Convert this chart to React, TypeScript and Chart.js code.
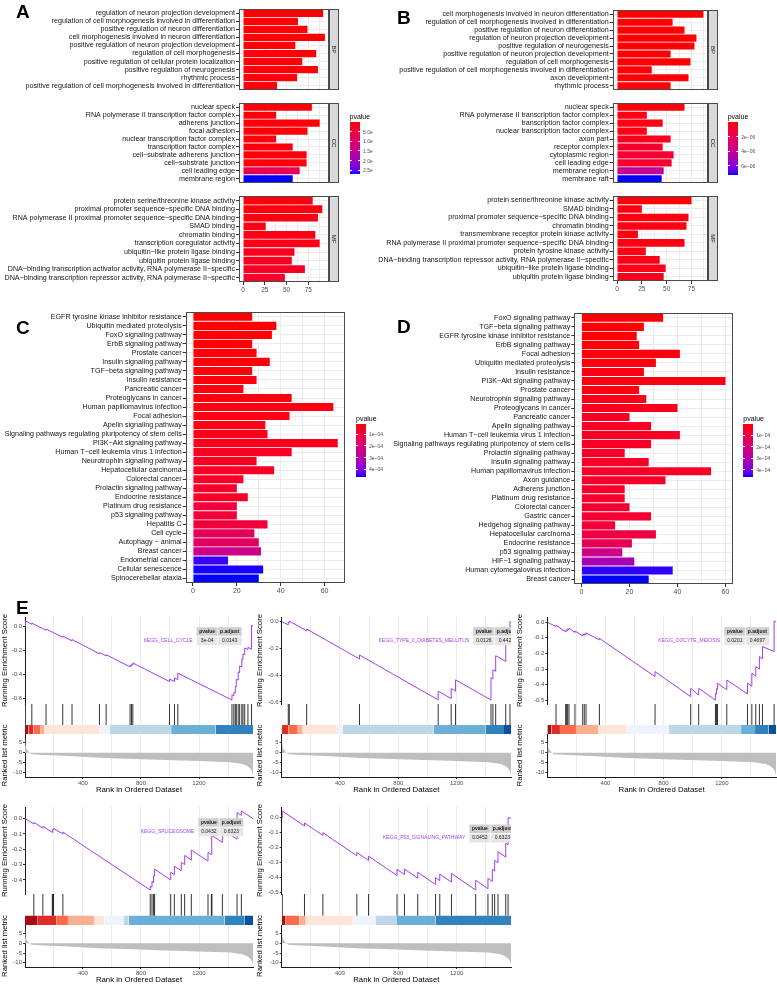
import React, { useEffect, useRef } from 'react';
import { Chart, registerables } from 'chart.js';
Chart.register(...registerables);

const FONT = "'Liberation Sans', Arial, Helvetica, sans-serif";
const M = '\u2212';

// ---------------- Panel A (GO) ----------------
const aBPLabels = ['regulation of neuron projection development', 'regulation of cell morphogenesis involved in differentiation', 'positive regulation of neuron differentiation', 'cell morphogenesis involved in neuron differentiation', 'positive regulation of neuron projection development', 'regulation of cell morphogenesis', 'positive regulation of cellular protein localization', 'positive regulation of neurogenesis', 'rhythmic process', 'positive regulation of cell morphogenesis involved in differentiation'];
const aBPCounts = [92, 63, 74, 94, 60, 84, 68, 86, 62, 39];
const aBPPvalues = [0.01, 0.02, 0.02, 0.01, 0.03, 0.02, 0.03, 0.02, 0.04, 0.05];
const aCCLabels = ['nuclear speck', 'RNA polymerase II transcription factor complex', 'adherens junction', 'focal adhesion', 'nuclear transcription factor complex', 'transcription factor complex', 'cell' + M + 'substrate adherens junction', 'cell' + M + 'substrate junction', 'cell leading edge', 'membrane region'];
const aCCCounts = [79, 38, 88, 74, 38, 57, 73, 73, 65, 57];
const aCCPvalues = [0.03, 0.05, 0.03, 0.04, 0.06, 0.06, 0.05, 0.05, 0.7, 2.7];
const aMFLabels = ['protein serine/threonine kinase activity', 'proximal promoter sequence' + M + 'specific DNA binding', 'RNA polymerase II proximal promoter sequence' + M + 'specific DNA binding', 'SMAD binding', 'chromatin binding', 'transcription coregulator activity', 'ubiquitin' + M + 'like protein ligase binding', 'ubiquitin protein ligase binding', 'DNA' + M + 'binding transcription activator activity, RNA polymerase II' + M + 'specific', 'DNA' + M + 'binding transcription repressor activity, RNA polymerase II' + M + 'specific'];
const aMFCounts = [80, 91, 86, 26, 83, 88, 59, 56, 71, 48];
const aMFPvalues = [0.06, 0.07, 0.08, 0.1, 0.1, 0.12, 0.2, 0.22, 0.25, 0.28];
const aLegendRange = [0, 2.7];
const aLegendBreaks = [0.5, 1.0, 1.5, 2.0, 2.5];
const aLegendLabels = ['5.0e', '1.0e', '1.5e', '2.0e', '2.5e'];

// ---------------- Panel B (GO) ----------------
const bBPLabels = ['cell morphogenesis involved in neuron differentiation', 'regulation of cell morphogenesis involved in differentiation', 'positive regulation of neuron differentiation', 'regulation of neuron projection development', 'positive regulation of neurogenesis', 'positive regulation of neuron projection development', 'regulation of cell morphogenesis', 'positive regulation of cell morphogenesis involved in differentiation', 'axon development', 'rhythmic process'];
const bBPCounts = [87, 56, 68, 80, 78, 54, 74, 35, 72, 54];
const bBPPvalues = [0.02, 0.03, 0.03, 0.03, 0.04, 0.05, 0.05, 0.06, 0.08, 0.1];
const bCCLabels = ['nuclear speck', 'RNA polymerase II transcription factor complex', 'transcription factor complex', 'nuclear transcription factor complex', 'axon part', 'receptor complex', 'cytoplasmic region', 'cell leading edge', 'membrane region', 'membrane raft'];
const bCCCounts = [68, 30, 46, 30, 54, 46, 57, 55, 47, 45];
const bCCPvalues = [0.1, 0.2, 0.25, 0.3, 0.45, 0.8, 0.9, 0.9, 3.9, 7.2];
const bMFLabels = ['protein serine/threonine kinase activity', 'SMAD binding', 'proximal promoter sequence' + M + 'specific DNA binding', 'chromatin binding', 'transmembrane receptor protein kinase activity', 'RNA polymerase II proximal promoter sequence' + M + 'specific DNA binding', 'protein tyrosine kinase activity', 'DNA' + M + 'binding transcription repressor activity, RNA polymerase II' + M + 'specific', 'ubiquitin' + M + 'like protein ligase binding', 'ubiquitin protein ligase binding'];
const bMFCounts = [75, 25, 72, 70, 21, 68, 29, 43, 49, 47];
const bMFPvalues = [0.1, 0.15, 0.15, 0.2, 0.2, 0.25, 0.25, 0.3, 0.35, 0.35];
const bLegendRange = [0, 7.2];
const bLegendBreaks = [2, 4, 6];
const bLegendLabels = ['2e' + M + '06', '4e' + M + '06', '6e' + M + '06'];

const goMajorTicks = [0, 25, 50, 75];
const goMinorTicks = [12.5, 37.5, 62.5, 87.5];

// ---------------- Panel C (KEGG) ----------------
const cLabels = ['EGFR tyrosine kinase inhibitor resistance', 'Ubiquitin mediated proteolysis', 'FoxO signaling pathway', 'ErbB signaling pathway', 'Prostate cancer', 'Insulin signaling pathway', 'TGF' + M + 'beta signaling pathway', 'Insulin resistance', 'Pancreatic cancer', 'Proteoglycans in cancer', 'Human papillomavirus infection', 'Focal adhesion', 'Apelin signaling pathway', 'Signaling pathways regulating pluripotency of stem cells', 'PI3K' + M + 'Akt signaling pathway', 'Human T' + M + 'cell leukemia virus 1 infection', 'Neurotrophin signaling pathway', 'Hepatocellular carcinoma', 'Colorectal cancer', 'Prolactin signaling pathway', 'Endocrine resistance', 'Platinum drug resistance', 'p53 signaling pathway', 'Hepatitis C', 'Cell cycle', 'Autophagy ' + M + ' animal', 'Breast cancer', 'Endometrial cancer', 'Cellular senescence', 'Spinocerebellar ataxia'];
const cCounts = [27, 38, 36, 27, 29, 35, 27, 29, 23, 45, 64, 44, 33, 34, 66, 45, 29, 37, 23, 20, 25, 20, 20, 34, 28, 30, 31, 16, 32, 30];
const cPvalues = [0.17, 0.18, 0.19, 0.2, 0.21, 0.22, 0.23, 0.24, 0.26, 0.28, 0.3, 0.32, 0.35, 0.38, 0.42, 0.5, 0.55, 0.55, 0.6, 0.62, 0.62, 0.85, 0.85, 0.9, 1.5, 1.6, 2.4, 4.5, 4.6, 4.63];
const cLegendRange = [0.17, 4.63];

// ---------------- Panel D (KEGG) ----------------
const dLabels = ['FoxO signaling pathway', 'TGF' + M + 'beta signaling pathway', 'EGFR tyrosine kinase inhibitor resistance', 'ErbB signaling pathway', 'Focal adhesion', 'Ubiquitin mediated proteolysis', 'Insulin resistance', 'PI3K' + M + 'Akt signaling pathway', 'Prostate cancer', 'Neurotrophin signaling pathway', 'Proteoglycans in cancer', 'Pancreatic cancer', 'Apelin signaling pathway', 'Human T' + M + 'cell leukemia virus 1 infection', 'Signaling pathways regulating pluripotency of stem cells', 'Prolactin signaling pathway', 'Insulin signaling pathway', 'Human papillomavirus infection', 'Axon guidance', 'Adherens junction', 'Platinum drug resistance', 'Colorectal cancer', 'Gastric cancer', 'Hedgehog signaling pathway', 'Hepatocellular carcinoma', 'Endocrine resistance', 'p53 signaling pathway', 'HIF' + M + '1 signaling pathway', 'Human cytomegalovirus infection', 'Breast cancer'];
const dCounts = [34, 26, 23, 24, 41, 31, 26, 60, 24, 27, 40, 20, 29, 41, 29, 18, 28, 54, 35, 18, 18, 20, 29, 14, 31, 21, 17, 22, 38, 28];
const dPvalues = [0.02, 0.04, 0.06, 0.08, 0.1, 0.12, 0.14, 0.16, 0.18, 0.22, 0.3, 0.38, 0.4, 0.4, 0.42, 0.45, 0.45, 0.45, 0.5, 0.5, 0.55, 0.55, 0.6, 0.7, 0.9, 1.3, 2.3, 3.2, 4.5, 4.6];
const dLegendRange = [0.02, 4.6];

const keggMajorTicks = [0, 20, 40, 60];
const keggMinorTicks = [10, 30, 50];
const keggLegendBreaks = [1, 2, 3, 4];
const keggLegendLabels = ['1e' + M + '04', '2e' + M + '04', '3e' + M + '04', '4e' + M + '04'];

// ---------------- Panel E (GSEA) ----------------
const geneListSize = 1572;
const rankGridTicks = [200, 400, 600, 800, 1000, 1200, 1400];
const rankLabelTicks = [400, 800, 1200];
const metricTicks = [5, 0, -5, -10];
const rankedMetric = [[1, 8.4], [3, 5.5], [6, 3.5], [10, 2.2], [18, 1.2], [30, 0.3], [45, -0.8], [100, -1.0], [300, -1.7], [514, -2.5], [700, -3.0], [970, -3.7], [1200, -4.2], [1420, -4.8], [1500, -5.6], [1530, -6.5], [1555, -8.0], [1566, -9.5], [1572, -11.2]];
const bandPalette = ['#08519C', '#3182BD', '#6BAED6', '#BDD7E7', '#EFF3FF', '#FEE5D9', '#FCAE91', '#FB6A4A', '#DE2D26', '#A50F15'];

const cellCycleES = [[1, 0], [4, -0.002], [4, 0.045], [48, 0.017], [48, 0.027], [146, -0.032], [146, -0.022], [261, -0.091], [261, -0.082], [325, -0.12], [325, -0.11], [514, -0.228], [514, -0.218], [560, -0.246], [560, -0.236], [725, -0.338], [725, -0.325], [735, -0.331], [735, -0.317], [744, -0.322], [744, -0.305], [997, -0.46], [997, -0.44], [1031, -0.46], [1031, -0.43], [1054, -0.444], [1054, -0.39], [1427, -0.614], [1427, -0.57], [1440, -0.578], [1440, -0.55], [1450, -0.556], [1450, -0.5], [1457, -0.504], [1457, -0.44], [1470, -0.448], [1470, -0.38], [1480, -0.386], [1480, -0.33], [1495, -0.339], [1495, -0.27], [1503, -0.275], [1503, -0.23], [1515, -0.237], [1515, -0.18], [1537, -0.193], [1537, -0.175], [1562, -0.19], [1562, 0.01], [1572, 0.0]];
const cellCycleHits = [4, 48, 146, 261, 325, 514, 560, 725, 735, 744, 997, 1031, 1054, 1427, 1440, 1450, 1457, 1470, 1480, 1495, 1503, 1515, 1537, 1562];
const cellCycleBand = [[1, 25, 9], [25, 60, 8], [60, 105, 7], [105, 136, 6], [136, 514, 5], [514, 583, 4], [583, 1008, 3], [1008, 1314, 2], [1314, 1572, 1]];

const diabetesES = [[1, 0], [46, -0.025], [46, -0.005], [53, -0.009], [53, 0.004], [172, -0.07], [172, -0.056], [534, -0.28], [534, -0.25], [1073, -0.585], [1073, -0.52], [1162, -0.575], [1162, -0.5], [1192, -0.519], [1192, -0.435], [1435, -0.586], [1435, -0.42], [1448, -0.428], [1448, -0.36], [1467, -0.372], [1467, -0.255], [1536, -0.298], [1536, -0.13], [1565, -0.148], [1565, 0.0], [1572, -0.004]];
const diabetesHits = [46, 53, 172, 534, 1073, 1162, 1192, 1435, 1448, 1467, 1536, 1565];
const diabetesBand = [[1, 47, 8], [47, 111, 7], [111, 145, 6], [145, 379, 5], [379, 418, 4], [418, 1043, 3], [1043, 1398, 2], [1398, 1524, 1], [1524, 1572, 0]];

const oocyteES = [[1, 0], [61, -0.028], [61, -0.02], [127, -0.062], [127, -0.054], [134, -0.058], [134, -0.048], [141, -0.052], [141, -0.042], [150, -0.048], [150, -0.038], [191, -0.066], [191, -0.056], [244, -0.088], [244, -0.078], [255, -0.084], [255, -0.074], [267, -0.082], [267, -0.068], [359, -0.113], [359, -0.103], [741, -0.348], [741, -0.316], [986, -0.476], [986, -0.423], [1041, -0.466], [1041, -0.423], [1156, -0.498], [1156, -0.455], [1163, -0.46], [1163, -0.425], [1170, -0.43], [1170, -0.39], [1234, -0.433], [1234, -0.37], [1376, -0.459], [1376, -0.39], [1406, -0.41], [1406, -0.327], [1433, -0.345], [1433, -0.284], [1458, -0.3], [1458, -0.22], [1479, -0.234], [1479, -0.156], [1559, -0.188], [1559, 0.008], [1572, 0.0]];
const oocyteHits = [61, 127, 134, 141, 150, 191, 244, 255, 267, 359, 741, 986, 1041, 1156, 1163, 1170, 1234, 1376, 1406, 1433, 1458, 1479, 1559];
const oocyteBand = [[1, 30, 9], [30, 88, 8], [88, 198, 7], [198, 352, 6], [352, 542, 5], [542, 837, 4], [837, 1332, 3], [1332, 1428, 2], [1428, 1520, 1], [1520, 1572, 0]];

const spliceosomeES = [[1, 0], [62, -0.035], [62, -0.025], [124, -0.062], [124, -0.05], [189, -0.09], [189, -0.078], [193, -0.08], [193, -0.07], [198, -0.073], [198, -0.064], [262, -0.1], [262, -0.088], [864, -0.466], [864, -0.44], [876, -0.448], [876, -0.41], [887, -0.417], [887, -0.37], [894, -0.374], [894, -0.33], [1005, -0.4], [1005, -0.35], [1030, -0.366], [1030, -0.31], [1078, -0.34], [1078, -0.285], [1101, -0.3], [1101, -0.24], [1147, -0.27], [1147, -0.205], [1262, -0.277], [1262, -0.22], [1285, -0.234], [1285, -0.17], [1289, -0.172], [1289, -0.11], [1361, -0.155], [1361, -0.07], [1462, -0.134], [1462, 0.04], [1492, 0.021], [1492, 0.05], [1572, 0.0]];
const spliceosomeHits = [62, 124, 189, 193, 198, 262, 864, 876, 887, 894, 1005, 1030, 1078, 1101, 1147, 1262, 1285, 1289, 1361, 1462, 1492];
const spliceosomeBand = [[1, 85, 9], [85, 216, 8], [216, 297, 7], [297, 476, 6], [476, 549, 5], [549, 680, 4], [680, 715, 3], [715, 1377, 2], [1377, 1515, 1], [1515, 1572, 0]];

const p53ES = [[1, 0], [5, -0.003], [5, 0.045], [157, -0.055], [157, -0.035], [283, -0.118], [283, -0.1], [516, -0.254], [516, -0.232], [596, -0.285], [596, -0.257], [791, -0.386], [791, -0.345], [842, -0.379], [842, -0.343], [933, -0.404], [933, -0.365], [1055, -0.446], [1055, -0.4], [1084, -0.42], [1084, -0.376], [1164, -0.43], [1164, -0.372], [1330, -0.483], [1330, -0.418], [1414, -0.474], [1414, -0.405], [1444, -0.425], [1444, -0.345], [1460, -0.356], [1460, -0.285], [1483, -0.3], [1483, -0.228], [1536, -0.263], [1536, -0.17], [1552, -0.181], [1552, 0.0], [1572, -0.005]];
const p53Hits = [5, 157, 283, 516, 596, 791, 842, 933, 1055, 1084, 1164, 1330, 1414, 1444, 1460, 1483, 1536, 1552];
const p53Band = [[1, 28, 9], [28, 122, 7], [122, 166, 6], [166, 493, 5], [493, 647, 4], [647, 791, 3], [791, 1055, 2], [1055, 1572, 1]];

const esTicksStep2 = [0, -0.2, -0.4, -0.6];
const esTicksStep1a = [0, -0.1, -0.2, -0.3, -0.4, -0.5];
const esTicksStep1b = [0, -0.1, -0.2, -0.3, -0.4];

const gseaNames = ['KEGG_CELL_CYCLE', 'KEGG_TYPE_II_DIABETES_MELLITUS', 'KEGG_OOCYTE_MEIOSIS', 'KEGG_SPLICEOSOME', 'KEGG_P53_SIGNALING_PATHWAY'];
const gseaPvalues = ['3e-04', '0.0126', '0.0201', '0.0432', '0.0452'];
const gseaPadjust = ['0.0143', '0.4427', '0.4697', '0.6323', '0.6323'];

// ---------------- colour helpers ----------------
function toLin(c: number) { c /= 255; return c <= 0.04045 ? c / 12.92 : Math.pow((c + 0.055) / 1.055, 2.4); }
function fromLin(c: number) { const v = c <= 0.0031308 ? 12.92 * c : 1.055 * Math.pow(Math.max(c, 0), 1 / 2.4) - 0.055; return Math.round(Math.min(1, Math.max(0, v)) * 255); }
function rgb2lab(r: number, g: number, b: number) {
  const R = toLin(r), G = toLin(g), B = toLin(b);
  const X = (0.4124564 * R + 0.3575761 * G + 0.1804375 * B) / 0.95047;
  const Y = 0.2126729 * R + 0.7151522 * G + 0.072175 * B;
  const Z = (0.0193339 * R + 0.119192 * G + 0.9503041 * B) / 1.08883;
  const f = (t: number) => (t > 216 / 24389 ? Math.cbrt(t) : (24389 / 27 * t + 16) / 116);
  const fx = f(X), fy = f(Y), fz = f(Z);
  return [116 * fy - 16, 500 * (fx - fy), 200 * (fy - fz)];
}
function lab2rgb(L: number, a: number, b: number) {
  const fy = (L + 16) / 116, fx = fy + a / 500, fz = fy - b / 200;
  const inv = (t: number) => (t * t * t > 216 / 24389 ? t * t * t : (116 * t - 16) / (24389 / 27));
  const X = inv(fx) * 0.95047, Y = inv(fy), Z = inv(fz) * 1.08883;
  const R = 3.2404542 * X - 1.5371385 * Y - 0.4985314 * Z;
  const G = -0.969266 * X + 1.8760108 * Y + 0.041556 * Z;
  const B = 0.0556434 * X - 0.2040259 * Y + 1.0572252 * Z;
  return `rgb(${fromLin(R)},${fromLin(G)},${fromLin(B)})`;
}
const LAB_LOW = rgb2lab(255, 0, 0);
const LAB_HIGH = rgb2lab(0, 0, 255);
function rampColor(t: number) {
  const u = Math.max(0, Math.min(1, t));
  return lab2rgb(LAB_LOW[0] + (LAB_HIGH[0] - LAB_LOW[0]) * u, LAB_LOW[1] + (LAB_HIGH[1] - LAB_LOW[1]) * u, LAB_LOW[2] + (LAB_HIGH[2] - LAB_LOW[2]) * u);
}
function pColor(p: number, range: number[]) { return rampColor((p - range[0]) / (range[1] - range[0])); }

const PURPLE = '#A03EF2';

// ---------------- bar panel config ----------------
type BarSpec = {
  left: number; top: number; width: number; height: number;
  axisWidth: number; padRight: number; xAxisHeight: number;
  labels: string[]; counts: number[]; pvalues: number[]; pRange: number[];
  majors: number[]; minors: number[]; xMaxData: number; strip?: string; labelSize: number; tickSize: number;
};

function panelDecor(strip?: string) {
  return {
    id: 'panelDecor',
    afterDraw(chart: any) {
      const { ctx, chartArea: a } = chart;
      ctx.save();
      ctx.strokeStyle = '#4a4a4a';
      ctx.lineWidth = 1;
      const l = Math.round(a.left), t = Math.round(a.top), r = Math.round(a.right), b = Math.round(a.bottom);
      ctx.strokeRect(l + 0.5, t + 0.5, r - l - 1, b - t - 1);
      if (strip) {
        const w = 10;
        ctx.fillStyle = '#D9D9D9';
        ctx.fillRect(r, t, w, b - t);
        ctx.strokeRect(r + 0.5, t + 0.5, w - 1, b - t - 1);
        ctx.translate(r + w / 2, (t + b) / 2);
        ctx.rotate(Math.PI / 2);
        ctx.fillStyle = '#1A1A1A';
        ctx.font = `6px ${FONT}`;
        ctx.textAlign = 'center';
        ctx.textBaseline = 'middle';
        ctx.fillText(strip, 0, 0);
      }
      ctx.restore();
    },
  };
}

function barConfig(s: BarSpec): any {
  const colors = s.pvalues.map((p) => pColor(p, s.pRange));
  const allTicks = [...s.majors, ...s.minors].sort((a, b) => a - b);
  const xMin = -0.05 * s.xMaxData, xMax = 1.05 * s.xMaxData;
  return {
    type: 'bar',
    data: { labels: s.labels, datasets: [{ data: s.counts, backgroundColor: colors, borderWidth: 0, categoryPercentage: 0.9, barPercentage: 1 }] },
    options: {
      indexAxis: 'y', animation: false, responsive: false, maintainAspectRatio: false,
      layout: { padding: { left: 0, right: s.padRight, top: 0, bottom: 0 } },
      plugins: { legend: { display: false }, tooltip: { enabled: false } },
      scales: {
        x: {
          type: 'linear', min: xMin, max: xMax,
          afterBuildTicks: (sc: any) => { sc.ticks = allTicks.map((v) => ({ value: v })); },
          afterFit: (sc: any) => { sc.height = s.xAxisHeight; },
          ticks: { display: s.xAxisHeight > 0, autoSkip: false, maxRotation: 0, padding: 1, color: '#4D4D4D', font: { family: FONT, size: s.tickSize }, callback: (v: number) => (s.majors.includes(v) ? String(v) : '') },
          grid: { color: '#EBEBEB', lineWidth: 1, drawTicks: s.xAxisHeight > 0, tickLength: 3, tickColor: (c: any) => (c.tick && s.majors.includes(c.tick.value) ? '#333' : 'rgba(0,0,0,0)') },
          border: { display: false },
        },
        y: {
          type: 'category',
          afterFit: (sc: any) => { sc.width = s.axisWidth; },
          ticks: { autoSkip: false, padding: 1, color: '#141414', font: { family: FONT, size: s.labelSize } },
          grid: { offset: false, color: '#EBEBEB', tickLength: 3, tickColor: '#333' },
          border: { display: false },
        },
      },
    },
    plugins: [panelDecor(s.strip)],
  };
}

// ---------------- GSEA config ----------------
type GseaSpec = {
  es: number[][]; hits: number[]; band: number[][]; esTicks: number[]; idx: number;
  left: number; top: number; width: number; height: number; axisW: number; padRight: number;
  weights: number[]; tableX: number; tableY: number;
};

const BAND_TOP = 0.3;

function gseaAnnot(g: GseaSpec) {
  return {
    id: 'gseaAnnot',
    afterDatasetsDraw(chart: any) {
      const { ctx, chartArea: a } = chart;
      ctx.save();
      ctx.beginPath();
      ctx.rect(a.left, a.top, a.right - a.left, a.bottom - a.top);
      ctx.clip();
      const x0 = a.left + g.tableX, yH = a.top + g.tableY, rowH = 9, w1 = 21, w2 = 24;
      ctx.fillStyle = '#CFCFCF';
      ctx.fillRect(x0, yH - rowH / 2, w1 + w2, rowH);
      ctx.fillStyle = '#E6E6E6';
      ctx.fillRect(x0, yH + rowH / 2, w1 + w2, rowH);
      ctx.strokeStyle = '#FFFFFF';
      ctx.lineWidth = 0.8;
      ctx.beginPath();
      ctx.moveTo(x0 + w1, yH - rowH / 2); ctx.lineTo(x0 + w1, yH + rowH * 1.5);
      ctx.moveTo(x0, yH + rowH / 2); ctx.lineTo(x0 + w1 + w2, yH + rowH / 2);
      ctx.stroke();
      ctx.textBaseline = 'middle';
      ctx.textAlign = 'center';
      ctx.fillStyle = '#1A1A1A';
      ctx.font = `bold 5px ${FONT}`;
      ctx.fillText('pvalue', x0 + w1 / 2, yH);
      ctx.fillText('p.adjust', x0 + w1 + w2 / 2, yH);
      ctx.font = `5px ${FONT}`;
      ctx.fillText(gseaPvalues[g.idx], x0 + w1 / 2, yH + rowH);
      ctx.fillText(gseaPadjust[g.idx], x0 + w1 + w2 / 2, yH + rowH);
      ctx.fillStyle = PURPLE;
      ctx.textAlign = 'right';
      ctx.fillText(gseaNames[g.idx], x0 - 4, yH + rowH);
      ctx.restore();
    },
  };
}

function gseaConfig(g: GseaSpec): any {
  const esVals = g.es.map((d) => d[1]);
  const lo = Math.min(...esVals), hi = Math.max(...esVals), pad = (hi - lo) * 0.05;
  const mv = rankedMetric.map((d) => d[1]);
  const mlo = Math.min(...mv), mhi = Math.max(...mv), mpad = (mhi - mlo) * 0.05;
  const hitData: any[] = [];
  g.hits.forEach((h) => { hitData.push({ x: h, y: BAND_TOP }, { x: h, y: 1 }, { x: h, y: null }); });
  const tickFont = { family: FONT, size: 6 };
  const titleFont = { family: FONT, size: 7.8 };
  const datasets: any[] = [
    { yAxisID: 'yES', data: g.es.map(([x, y]) => ({ x, y })), borderColor: PURPLE, borderWidth: 1, pointRadius: 0, fill: false, tension: 0 },
    { yAxisID: 'yHit', data: hitData, borderColor: '#000000', borderWidth: 0.8, pointRadius: 0, fill: false, spanGaps: false },
    { yAxisID: 'yRank', data: rankedMetric.map(([x, y]) => ({ x, y })), borderColor: 'rgba(0,0,0,0)', borderWidth: 0, backgroundColor: '#BEBEBE', fill: 'origin', pointRadius: 0 },
    ...g.band.map(([a, b, bin]) => ({ yAxisID: 'yHit', data: [{ x: a, y: BAND_TOP }, { x: b, y: BAND_TOP }], borderColor: 'rgba(0,0,0,0)', borderWidth: 0, backgroundColor: bandPalette[bin], fill: { value: 0 }, pointRadius: 0 })),
  ];
  return {
    type: 'line',
    data: { datasets },
    options: {
      animation: false, responsive: false, maintainAspectRatio: false,
      layout: { padding: { left: 0, right: g.padRight, top: 5, bottom: 0 } },
      plugins: { legend: { display: false }, tooltip: { enabled: false } },
      scales: {
        x: {
          type: 'linear', min: 1, max: geneListSize,
          afterBuildTicks: (sc: any) => { sc.ticks = rankGridTicks.map((v) => ({ value: v })); },
          afterFit: (sc: any) => { sc.height = 18; },
          ticks: { autoSkip: false, maxRotation: 0, padding: 1, color: '#4D4D4D', font: tickFont, callback: (v: number) => (rankLabelTicks.includes(v) ? String(v) : '') },
          grid: { color: '#EBEBEB', lineWidth: 1, tickLength: 2, tickColor: (c: any) => (c.tick && rankLabelTicks.includes(c.tick.value) ? '#333' : 'rgba(0,0,0,0)') },
          border: { display: true, color: '#1A1A1A', width: 1 },
          title: { display: true, text: 'Rank in Ordered Dataset', color: '#000', font: titleFont, padding: 0 },
        },
        yRank: {
          type: 'linear', position: 'left', stack: 'gsea', stackWeight: g.weights[2], weight: 1,
          min: mlo - mpad, max: mhi + mpad,
          afterBuildTicks: (sc: any) => { sc.ticks = metricTicks.map((v) => ({ value: v })); },
          afterFit: (sc: any) => { sc.width = g.axisW; },
          ticks: { autoSkip: false, padding: 1, color: '#4D4D4D', font: tickFont, callback: (v: number) => String(v) },
          grid: { drawOnChartArea: false, tickLength: 2, tickColor: '#333' },
          border: { display: true, color: '#1A1A1A', width: 1 },
          title: { display: true, text: 'Ranked list metric', color: '#000', font: titleFont, padding: 0 },
        },
        yHit: {
          type: 'linear', position: 'left', stack: 'gsea', stackWeight: g.weights[1], weight: 2,
          min: 0, max: 1,
          afterFit: (sc: any) => { sc.width = g.axisW; },
          ticks: { display: false },
          grid: { display: false },
          border: { display: false },
        },
        yES: {
          type: 'linear', position: 'left', stack: 'gsea', stackWeight: g.weights[0], weight: 3,
          min: lo - pad, max: hi + pad,
          afterBuildTicks: (sc: any) => { sc.ticks = g.esTicks.map((v) => ({ value: v })); },
          afterFit: (sc: any) => { sc.width = g.axisW; },
          ticks: { autoSkip: false, padding: 1, color: '#4D4D4D', font: tickFont, callback: (v: number) => v.toFixed(1) },
          grid: { drawOnChartArea: false, tickLength: 2, tickColor: '#333' },
          border: { display: true, color: '#1A1A1A', width: 1 },
          title: { display: true, text: 'Running Enrichment Score', color: '#000', font: titleFont, padding: 0 },
        },
      },
    },
    plugins: [gseaAnnot(g)],
  };
}

// ---------------- components ----------------
function ChartBox({ left, top, width, height, config }: { left: number; top: number; width: number; height: number; config: any }) {
  const ref = useRef<HTMLCanvasElement>(null);
  useEffect(() => {
    const chart = new Chart(ref.current as HTMLCanvasElement, config);
    return () => chart.destroy();
  }, []);
  return <canvas ref={ref} width={width} height={height} style={{ position: 'absolute', left, top, width, height }} />;
}

function ColorLegend({ left, top, width, height, range, breaks, labels }: { left: number; top: number; width: number; height: number; range: number[]; breaks: number[]; labels: string[] }) {
  const stops: string[] = [];
  for (let i = 0; i <= 20; i++) stops.push(`${rampColor(i / 20)} ${(i * 5)}%`);
  const yOf = (b: number) => ((b - range[0]) / (range[1] - range[0])) * height;
  return (
    <div style={{ position: 'absolute', left, top, width, height }}>
      <div style={{ position: 'absolute', left: 0, top: -9, font: `7px ${FONT}`, color: '#000', whiteSpace: 'nowrap', lineHeight: '8px' }}>pvalue</div>
      <div style={{ position: 'absolute', left: 0, top: 0, width, height, background: `linear-gradient(to bottom, ${stops.join(', ')})` }} />
      {breaks.map((b, i) => (
        <React.Fragment key={i}>
          <div style={{ position: 'absolute', left: 0, top: yOf(b) - 0.5, width: 2, height: 1, background: '#fff' }} />
          <div style={{ position: 'absolute', left: width - 2, top: yOf(b) - 0.5, width: 2, height: 1, background: '#fff' }} />
          <div style={{ position: 'absolute', left: width + 3, top: yOf(b) - 3, font: `5px ${FONT}`, color: '#4D4D4D', whiteSpace: 'nowrap', lineHeight: '6px' }}>{labels[i]}</div>
        </React.Fragment>
      ))}
    </div>
  );
}

function PanelLetter({ text, left, top }: { text: string; left: number; top: number }) {
  return <div style={{ position: 'absolute', left, top, font: `bold 19px ${FONT}`, lineHeight: '19px', color: '#000' }}>{text}</div>;
}

const goCommon = { majors: goMajorTicks, minors: goMinorTicks, labelSize: 7.15, tickSize: 6.5 };
const keggCommon = { majors: keggMajorTicks, minors: keggMinorTicks, labelSize: 7.15, tickSize: 7 };
const aMax = Math.max(...aBPCounts, ...aCCCounts, ...aMFCounts);
const bMax = Math.max(...bBPCounts, ...bCCCounts, ...bMFCounts);

const barSpecs: BarSpec[] = [
  { ...goCommon, left: 0, top: 4, width: 385, height: 91, axisWidth: 239, padRight: 56, xAxisHeight: 0, labels: aBPLabels, counts: aBPCounts, pvalues: aBPPvalues, pRange: aLegendRange, xMaxData: aMax, strip: 'BP' },
  { ...goCommon, left: 0, top: 98, width: 385, height: 90, axisWidth: 239, padRight: 56, xAxisHeight: 0, labels: aCCLabels, counts: aCCCounts, pvalues: aCCPvalues, pRange: aLegendRange, xMaxData: aMax, strip: 'CC' },
  { ...goCommon, left: 0, top: 191, width: 385, height: 103, axisWidth: 239, padRight: 56, xAxisHeight: 12, labels: aMFLabels, counts: aMFCounts, pvalues: aMFPvalues, pRange: aLegendRange, xMaxData: aMax, strip: 'MF' },
  { ...goCommon, left: 350, top: 5, width: 427, height: 90, axisWidth: 262.7, padRight: 69.3, xAxisHeight: 0, labels: bBPLabels, counts: bBPCounts, pvalues: bBPPvalues, pRange: bLegendRange, xMaxData: bMax, strip: 'BP' },
  { ...goCommon, left: 350, top: 98, width: 427, height: 90, axisWidth: 262.7, padRight: 69.3, xAxisHeight: 0, labels: bCCLabels, counts: bCCCounts, pvalues: bCCPvalues, pRange: bLegendRange, xMaxData: bMax, strip: 'CC' },
  { ...goCommon, left: 350, top: 191, width: 427, height: 102, axisWidth: 262.7, padRight: 69.3, xAxisHeight: 12, labels: bMFLabels, counts: bMFCounts, pvalues: bMFPvalues, pRange: bLegendRange, xMaxData: bMax, strip: 'MF' },
  { ...keggCommon, left: 0, top: 307, width: 385, height: 290, axisWidth: 185.7, padRight: 40, xAxisHeight: 14, labels: cLabels, counts: cCounts, pvalues: cPvalues, pRange: cLegendRange, xMaxData: Math.max(...cCounts) },
  { ...keggCommon, left: 385, top: 308, width: 392, height: 290, axisWidth: 189.3, padRight: 44.3, xAxisHeight: 14, labels: dLabels, counts: dCounts, pvalues: dPvalues, pRange: dLegendRange, xMaxData: Math.max(...dCounts) },
];

const gseaSpecs: GseaSpec[] = [
  { idx: 0, es: cellCycleES, hits: cellCycleHits, band: cellCycleBand, esTicks: esTicksStep2, left: 0, top: 612, width: 255, height: 183, axisW: 25, padRight: 2, weights: [87, 30, 43], tableX: 171.7, tableY: 14.7 },
  { idx: 1, es: diabetesES, hits: diabetesHits, band: diabetesBand, esTicks: esTicksStep2, left: 255, top: 612, width: 258, height: 183, axisW: 26.7, padRight: 2, weights: [87, 30, 43], tableX: 191.6, tableY: 14.7 },
  { idx: 2, es: oocyteES, hits: oocyteHits, band: oocyteBand, esTicks: esTicksStep1a, left: 515, top: 612, width: 262, height: 183, axisW: 32.3, padRight: 1, weights: [87, 30, 43], tableX: 177, tableY: 14.7 },
  { idx: 3, es: spliceosomeES, hits: spliceosomeHits, band: spliceosomeBand, esTicks: esTicksStep1b, left: 0, top: 802, width: 255, height: 183, axisW: 25, padRight: 2, weights: [87, 31, 42], tableX: 173.3, tableY: 15.7 },
  { idx: 4, es: p53ES, hits: p53Hits, band: p53Band, esTicks: esTicksStep1a, left: 255, top: 802, width: 258, height: 183, axisW: 26.7, padRight: 2, weights: [87, 31, 42], tableX: 187.6, tableY: 22 },
];

export default function App() {
  return (
    <div style={{ position: 'absolute', left: 0, top: 0, width: 777, height: 985, background: '#fff', overflow: 'hidden', fontFamily: FONT }}>
      {barSpecs.map((s, i) => (
        <ChartBox key={'bar' + i} left={s.left} top={s.top} width={s.width} height={s.height} config={barConfig(s)} />
      ))}
      {gseaSpecs.map((g, i) => (
        <ChartBox key={'gsea' + i} left={g.left} top={g.top} width={g.width} height={g.height} config={gseaConfig(g)} />
      ))}
      <ColorLegend left={349.5} top={122} width={10.5} height={52} range={aLegendRange} breaks={aLegendBreaks} labels={aLegendLabels} />
      <ColorLegend left={727.7} top={122} width={10.5} height={52.7} range={bLegendRange} breaks={bLegendBreaks} labels={bLegendLabels} />
      <ColorLegend left={356} top={424.3} width={10} height={52.4} range={cLegendRange} breaks={keggLegendBreaks} labels={keggLegendLabels} />
      <ColorLegend left={743.3} top={424} width={10} height={52.7} range={dLegendRange} breaks={keggLegendBreaks} labels={keggLegendLabels} />
      <PanelLetter text="A" left={16} top={1.5} />
      <PanelLetter text="B" left={397} top={7.5} />
      <PanelLetter text="C" left={16} top={317.5} />
      <PanelLetter text="D" left={397} top={316.5} />
      <PanelLetter text="E" left={16} top={597.5} />
    </div>
  );
}
